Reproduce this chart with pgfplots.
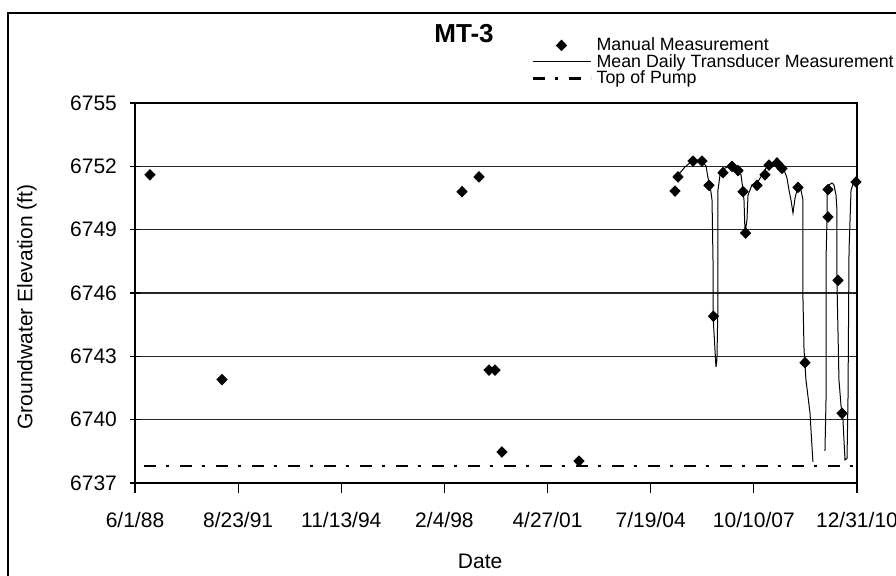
\documentclass[border=0pt]{standalone}
\usepackage{fontspec}
\setmainfont{Liberation Sans}
\usepackage{pgfplots}
\pgfplotsset{compat=1.18}

% manual measurements: x = days after 6/1/88
\pgfplotstableread{
x y
171 6751.6
994 6741.9
3736 6750.8
3930 6751.5
4044 6742.35
4113 6742.35
4192 6738.47
5072 6738.04
6169 6750.83
6203 6751.5
6375 6752.25
6477 6752.25
6557 6751.1
6608 6744.9
6717 6751.7
6820 6752.0
6889 6751.8
6946 6750.8
6975 6748.84
7106 6751.1
7197 6751.6
7243 6752.06
7334 6752.16
7391 6751.9
7574 6751.0
7654 6742.7
7917 6750.9
7917 6749.6
8031 6746.6
8077 6740.3
8237 6751.26
}\manual

\begin{document}
\begin{tikzpicture}
\useasboundingbox (0pt,0pt) rectangle (448pt,-287.5pt);
\draw[line width=0.7pt] (4pt,-300pt) -- (4pt,-6.5pt) -- (470pt,-6.5pt);
\node[font=\fontsize{13}{15}\selectfont\bfseries] at (232pt,-17pt) {MT-3};
\begin{axis}[
    at={(67.5pt,-241.5pt)}, anchor=south west,
    scale only axis,
    width=361pt, height=190pt,
    xmin=0, xmax=8248,
    ymin=6737, ymax=6755,
    xtick={0,1178.3,2356.6,3534.9,4713.1,5891.4,7069.7,8248},
    xticklabels={6/1/88,8/23/91,11/13/94,2/4/98,4/27/01,7/19/04,10/10/07,12/31/10},
    ytick={6737,6740,...,6755},
    /pgf/number format/1000 sep={},
    /pgf/number format/assume math mode=true,
    tick label style={font=\fontsize{10.5}{12}\selectfont},
    xticklabel style={yshift=-6pt},
    yticklabel style={xshift=-3pt},
    label style={font=\fontsize{10.5}{12}\selectfont},
    xlabel={Date},
    ylabel={Groundwater Elevation (ft)},
    xlabel style={at={(axis description cs:0.478,-0.205)}, anchor=center},
    ylabel style={at={(axis description cs:-0.1496,0.463)}, anchor=center},
    xtick pos=bottom, ytick pos=left,
    xtick align=outside, ytick align=center,
    major tick length=5pt,
    tick style={black, line width=0.6pt},
    axis line style={line width=0.6pt},
    ymajorgrids,
    major grid style={black!85, line width=0.6pt},
    clip mode=individual,
    legend cell align=left,
    legend image code/.code={\draw[mark repeat=2,mark phase=2,#1] plot coordinates {(0pt,0pt)(14.5pt,0pt)(29pt,0pt)};},
    legend style={at={(0.5485,1.1743)}, anchor=north west, draw=none, fill=none,
        inner sep=0pt, font=\fontsize{8.9}{11}\selectfont,
        nodes={inner sep=0pt, text height=6.8pt, text depth=1.45pt},
        row sep=0pt, column sep=2.5pt},
]
\addlegendimage{only marks, mark=diamond*, mark size=2.6pt, mark options={xscale=1.3, fill=black, draw=black}}
\addlegendentry{Manual Measurement}
\addlegendimage{black, line width=0.5pt}
\addlegendentry{Mean Daily Transducer Measurement}
\addlegendimage{black, line width=1.1pt, dash pattern=on 6pt off 5pt on 1.5pt off 5.5pt}
\addlegendentry{Top of Pump}

\addplot[forget plot, black, line width=1.1pt, dash pattern=on 6pt off 5pt on 1.5pt off 5.5pt]
    coordinates {(100,6737.8) (8248,6737.8)};

\addplot[forget plot, black, line width=0.5pt] coordinates {
(6215,6751.64) (6283,6751.97) (6363,6752.25) (6420,6752.30) (6477,6752.25)
(6523,6752.02) (6546,6751.45) (6569,6751.12) (6592,6750.40) (6603,6747.56)
(6603,6744.96) (6637,6742.49) (6648,6742.83) (6660,6745.67) (6660,6750.88)
(6683,6751.59) (6740,6751.92) (6820,6752.06) (6889,6751.97) (6923,6751.59)
(6946,6750.88) (6957,6750.40) (6969,6748.84) (6991,6749.46) (7003,6750.64)
(7048,6751.12) (7106,6751.21) (7163,6751.59) (7209,6751.92) (7254,6752.11)
(7323,6752.21) (7380,6752.06) (7414,6751.83) (7448,6751.45) (7471,6750.88)
(7494,6750.40) (7517,6749.79) (7540,6750.50) (7563,6750.88) (7585,6750.97)
(7608,6750.88) (7631,6750.40) (7631,6745.67) (7643,6743.30) (7665,6741.88)
(7711,6740.32) (7734,6738.70) (7745,6738.00)
};
\addplot[forget plot, black, line width=0.5pt] coordinates {
(7882,6738.52) (7894,6740.93) (7894,6747.56) (7906,6749.60) (7906,6750.88)
(7928,6751.12) (7963,6751.21) (7985,6751.12) (8008,6750.64) (8019,6749.93)
(8019,6746.57) (8042,6741.88) (8065,6740.69) (8088,6739.98) (8099,6739.04)
(8111,6738.09) (8134,6738.18) (8145,6740.93) (8157,6748.04) (8180,6750.88)
(8203,6751.16) (8237,6751.26)
};

\addplot[forget plot, only marks, mark=diamond*, mark size=2.6pt,
    mark options={xscale=1.3, fill=black, draw=black}] table[x=x, y=y] {\manual};
\end{axis}
\end{tikzpicture}
\end{document}
